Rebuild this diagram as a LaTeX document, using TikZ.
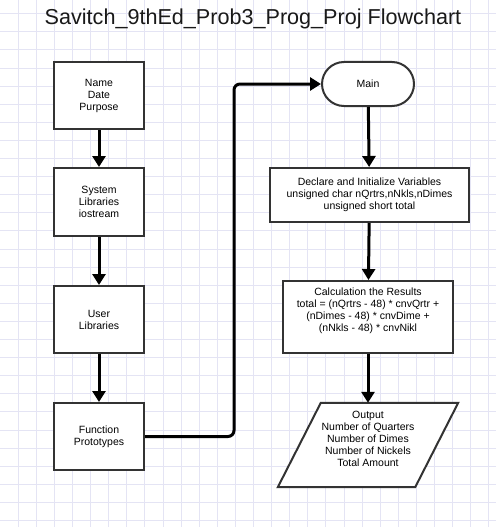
\documentclass[tikz,border=0pt]{standalone}
\usepackage{fontspec}
\setmainfont{Liberation Sans}
\usetikzlibrary{arrows.meta,shapes.misc}
\definecolor{gridc}{HTML}{E4E4F4}
\definecolor{boxc}{HTML}{333333}
\tikzset{
  procbox/.style={draw=boxc, line width=2pt, fill=white, rectangle, inner sep=0pt, font=\fontsize{10.5}{12}\selectfont, align=center},
  termbox/.style={draw=boxc, line width=2pt, fill=white, rounded rectangle, inner sep=0pt, font=\fontsize{10.5}{12}\selectfont},
  iobox/.style={draw=boxc, line width=2pt, fill=white},
  txt/.style={font=\fontsize{10.5}{12}\selectfont, align=center, inner sep=0pt},
  flow/.style={line width=3pt, -{Triangle[length=11pt,width=13pt]}, black},
}
\begin{document}
\begin{tikzpicture}[x=1pt,y=-1pt]
\useasboundingbox (0,0) rectangle (496,527);
\fill[white] (0,0) rectangle (496,527);
% grid
\foreach \i in {1,...,27} {\draw[gridc, line width=0.8pt] (18.1*\i,0) -- (18.1*\i,527);}
\foreach \j in {0,...,28} {\draw[gridc, line width=0.8pt] (0,13.6+18.1*\j) -- (496,13.6+18.1*\j);}
% title
\node[inner sep=0pt, font=\fontsize{21.6}{26}\selectfont, text=black!90] (title) at (253,19) {Savitch\_9thEd\_Prob3\_Prog\_Proj Flowchart};
% left column
\node[procbox, minimum width=90pt, minimum height=67pt] (b1) at (99,95.5) {Name\\Date\\Purpose};
\node[procbox, minimum width=90pt, minimum height=68pt] (b2) at (99,202) {System\\Libraries\\iostream};
\node[procbox, minimum width=90pt, minimum height=67pt] (b3) at (99,319.5) {User\\Libraries};
\node[procbox, minimum width=90pt, minimum height=67pt] (b4) at (99,436.5) {Function\\Prototypes};
% right column
\node[termbox, minimum width=92pt, minimum height=44pt] (main) at (368,84) {Main};
\node[procbox, minimum width=199pt, minimum height=54pt] (decl) at (369.5,195) {Declare and Initialize Variables\\unsigned char nQrtrs,nNkls,nDimes\\unsigned short total};
\node[procbox, minimum width=170pt, minimum height=72pt] (calc) at (368,317) {};
\node[txt] (calctxt) at (368,311) {Calculation the Results\\total = (nQrtrs - 48) * cnvQrtr +\\(nDimes - 48) * cnvDime +\\(nNkls - 48) * cnvNikl};
\node[inner sep=0pt, minimum width=180pt, minimum height=84pt] (out) at (368,445) {};
\draw[iobox] ([xshift=43pt]out.north west) -- (out.north east) -- ([xshift=-43pt]out.south east) -- (out.south west) -- cycle;
\node[txt] (outtxt) at (368,439) {Output\\Number of Quarters\\Number of Dimes\\Number of Nickels\\Total Amount};
% connectors
\draw[flow] (b1) -- (b2);
\draw[flow] (b2) -- (b3);
\draw[flow] (b3) -- (b4);
\coordinate (c1) at (234,436.5);
\coordinate (c2) at (234,84);
\draw[flow, rounded corners=6pt] (b4.east) -- (c1) -- (c2) -- (main.west);
\draw[flow] (main) -- (decl);
\draw[flow] (decl) -- (calc);
\draw[flow] (calc) -- (out);
\end{tikzpicture}
\end{document}
